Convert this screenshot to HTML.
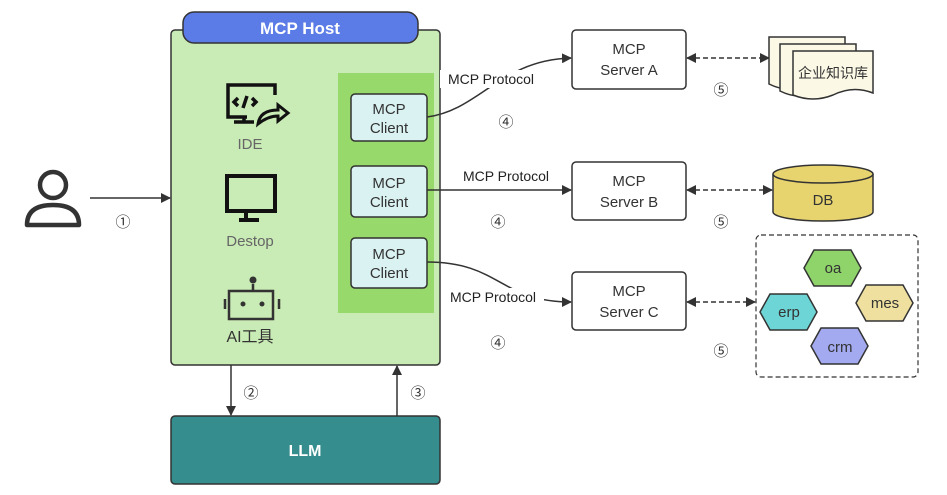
<!DOCTYPE html>
<html><head><meta charset="utf-8"><style>
html,body{margin:0;padding:0;background:#fff}
svg{display:block}
text{font-family:"Liberation Sans","Noto Sans CJK SC",sans-serif}
</style></head><body>
<svg width="947" height="495" viewBox="0 0 947 495" xmlns="http://www.w3.org/2000/svg">
<defs>
<marker id="ar" markerWidth="10" markerHeight="10" refX="9" refY="5" orient="auto" markerUnits="userSpaceOnUse"><path d="M0,0 L10,5 L0,10 Z" fill="#333"/></marker>
<marker id="al" markerWidth="10" markerHeight="10" refX="1" refY="5" orient="auto" markerUnits="userSpaceOnUse"><path d="M10,0 L0,5 L10,10 Z" fill="#333"/></marker>
</defs>
<rect x="171" y="30" width="269" height="335" rx="4" fill="#c9ebb5" stroke="#333" stroke-width="1.5"/>
<rect x="183" y="12" width="235" height="31" rx="11" fill="#5b7be6" stroke="#333" stroke-width="1.5"/>
<text x="300" y="34" font-size="17" font-weight="bold" fill="#fff" text-anchor="middle">MCP Host</text>
<rect x="338" y="73" width="96" height="240" fill="#97d96a"/>
<g fill="#daf2f2" stroke="#333" stroke-width="1.5">
<rect x="351" y="94" width="76" height="47" rx="4"/>
<rect x="351" y="166" width="76" height="51" rx="4"/>
<rect x="351" y="238" width="76" height="50" rx="4"/>
</g>
<g font-size="15" fill="#333" text-anchor="middle">
<text x="389" y="114">MCP</text><text x="389" y="133">Client</text>
<text x="389" y="188">MCP</text><text x="389" y="207">Client</text>
<text x="389" y="259">MCP</text><text x="389" y="278">Client</text>
</g>
<g stroke="#111" fill="none" stroke-width="3.5">
<path d="M247,117 H228 V85 H275 V95"/><path d="M234,122 H254 M244,117 V122"/>
<path d="M238,98 l-4,4 4,4 M252,98 l4,4 -4,4 M247,96 l-4,12"/>
<path d="M258,124 q2,-14 20,-14 v-5 l10,8 -10,8 v-5 q-10,0 -20,8 z" stroke-width="3"/>
<rect x="227" y="176" width="48" height="35" stroke-width="4"/>
<path d="M246,213 v5 M239,220 h20" stroke-width="4"/>
<rect x="229" y="291" width="44" height="28" stroke="#333" stroke-width="2.5"/>
<path d="M253,284 v7 M225,299 v10 M279,299 v10" stroke="#333" stroke-width="2.5"/>
</g>
<circle cx="253" cy="280" r="3.5" fill="#333"/>
<circle cx="243" cy="304" r="2.5" fill="#333"/><circle cx="262" cy="304" r="2.5" fill="#333"/>
<g font-size="15" fill="#666" text-anchor="middle">
<text x="250" y="149">IDE</text><text x="250" y="246">Destop</text>
</g>
<text x="250" y="342" font-size="16" fill="#333" text-anchor="middle">AI工具</text>
<circle cx="53" cy="185" r="13" fill="none" stroke="#333" stroke-width="4.5"/>
<path d="M27,225 q0,-20 26,-20 q26,0 26,20 z" fill="none" stroke="#333" stroke-width="4.5" stroke-linejoin="round"/>
<line x1="90" y1="198" x2="170" y2="198" stroke="#333" stroke-width="1.5" marker-end="url(#ar)"/>
<g font-size="15" fill="#333" text-anchor="middle">
<text x="123" y="227">①</text><text x="251" y="398">②</text><text x="418" y="398">③</text>
<text x="506" y="127">④</text><text x="498" y="227">④</text><text x="498" y="348">④</text>
<text x="721" y="95">⑤</text><text x="721" y="227">⑤</text><text x="721" y="356">⑤</text>
</g>
<line x1="231" y1="365" x2="231" y2="415" stroke="#333" stroke-width="1.5" marker-end="url(#ar)"/>
<line x1="397" y1="416" x2="397" y2="366" stroke="#333" stroke-width="1.5" marker-end="url(#ar)"/>
<rect x="171" y="416" width="269" height="68" rx="4" fill="#358d8d" stroke="#333" stroke-width="1.5"/>
<text x="305" y="456" font-size="16" font-weight="bold" fill="#fff" text-anchor="middle">LLM</text>
<g fill="#fff" stroke="#333" stroke-width="1.5">
<rect x="572" y="30" width="114" height="59" rx="4"/>
<rect x="572" y="162" width="114" height="58" rx="4"/>
<rect x="572" y="272" width="114" height="58" rx="4"/>
</g>
<g font-size="15" fill="#333" text-anchor="middle">
<text x="629" y="54">MCP</text><text x="629" y="75">Server A</text>
<text x="629" y="186">MCP</text><text x="629" y="207">Server B</text>
<text x="629" y="296">MCP</text><text x="629" y="317">Server C</text>
</g>
<path d="M427,117 C480,110 500,60 571,58" fill="none" stroke="#333" stroke-width="1.5" marker-end="url(#ar)"/>
<line x1="427" y1="190" x2="571" y2="190" stroke="#333" stroke-width="1.5" marker-end="url(#ar)"/>
<path d="M427,262 C500,262 500,302 571,302" fill="none" stroke="#333" stroke-width="1.5" marker-end="url(#ar)"/>
<rect x="440" y="70" width="102" height="18" fill="#fff"/>
<rect x="442" y="288" width="102" height="18" fill="#fff"/>
<g font-size="14" fill="#222" text-anchor="middle">
<text x="491" y="84">MCP Protocol</text><text x="506" y="181">MCP Protocol</text><text x="493" y="302">MCP Protocol</text>
</g>
<g stroke="#333" stroke-width="1.5" stroke-dasharray="5,3" marker-start="url(#al)" marker-end="url(#ar)">
<line x1="687" y1="58" x2="769" y2="58"/>
<line x1="687" y1="190" x2="772" y2="190"/>
<line x1="687" y1="302" x2="755" y2="302"/>
</g>
<g fill="#fbf8e6" stroke="#333" stroke-width="1.5">
<path d="M769,37 h76 v43 q-20,-8 -38,4 q-18,10 -38,0 z"/>
<path d="M780,44 h76 v43 q-20,-8 -38,4 q-18,10 -38,0 z"/>
<path d="M793,51 h80 v42 q-20,-8 -40,2 q-20,8 -40,0 z"/>
</g>
<text x="833" y="78" font-size="14" fill="#333" text-anchor="middle">企业知识库</text>
<path d="M773,174 v38 a50,9 0 0 0 100,0 v-38" fill="#e8d46e" stroke="#333" stroke-width="1.5"/>
<ellipse cx="823" cy="174" rx="50" ry="9" fill="#e8d46e" stroke="#333" stroke-width="1.5"/>
<text x="823" y="205" font-size="15" fill="#333" text-anchor="middle">DB</text>
<rect x="756" y="235" width="162" height="142" rx="5" fill="none" stroke="#333" stroke-width="1.2" stroke-dasharray="5,3"/>
<g stroke="#333" stroke-width="1.5">
<path d="M814,250 h37 l10,18 -10,18 h-37 l-10,-18 z" fill="#8fd46a"/>
<path d="M866,285 h37 l10,18 -10,18 h-37 l-10,-18 z" fill="#efe0a0"/>
<path d="M770,294 h37 l10,18 -10,18 h-37 l-10,-18 z" fill="#6dd5d5"/>
<path d="M821,328 h37 l10,18 -10,18 h-37 l-10,-18 z" fill="#a3aaf0"/>
</g>
<g font-size="15" fill="#333" text-anchor="middle">
<text x="833" y="273">oa</text><text x="885" y="308">mes</text><text x="789" y="317">erp</text><text x="840" y="352">crm</text>
</g>
</svg>
</body></html>
